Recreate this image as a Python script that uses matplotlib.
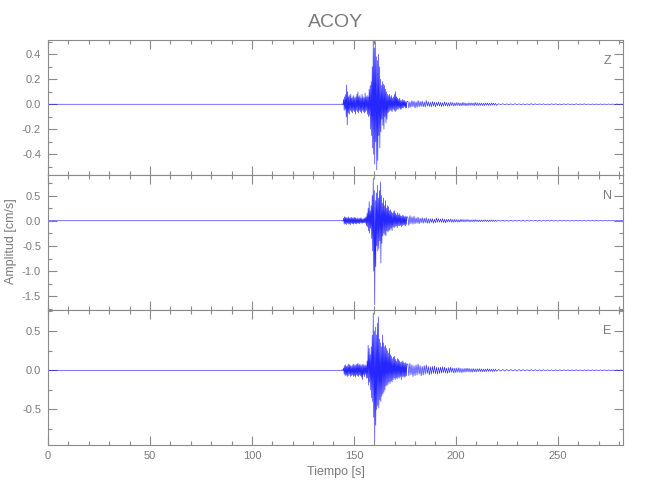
import numpy as np
import matplotlib
matplotlib.use('Agg')
import matplotlib.pyplot as plt
from matplotlib.ticker import MultipleLocator

plt.rcParams['font.family'] = ['Liberation Sans', 'DejaVu Sans']
plt.rcParams['axes.unicode_minus'] = False

station = "ACOY"
components = ["Z", "N", "E"]

# sampling of the digitised segments (s)
pre_t = [0.0, 143.75]
segA_start, segA_dt = 144.0, 0.25
segB_start, segB_dt = 176.5, 0.5
segC_start, segC_dt = 221.0, 1.0

# ---------------- Z component (cm/s) ----------------
z_pre = [0.0, 0.0]
z_A = [0.002, -0.003, 0.003, -0.002,
       0.04, -0.05, 0.06, -0.04,
       0.08, -0.1, 0.155, -0.165,
       0.1, -0.07, 0.06, -0.08,
       0.07, -0.05, 0.08, -0.06,
       0.05, -0.07, 0.06, -0.05,
       0.07, -0.06, 0.05, -0.08,
       0.06, -0.05, 0.08, -0.06,
       0.1, -0.07, 0.06, -0.05,
       0.07, -0.06, 0.05, -0.07,
       0.08, -0.05, 0.06, -0.06,
       0.05, -0.07, 0.09, -0.06,
       0.06, -0.05, 0.07, -0.08,
       0.06, -0.1, 0.12, -0.09,
       0.15, -0.2, 0.18, -0.25,
       0.3, -0.35, 0.51, -0.4,
       0.45, -0.48, 0.5, -0.3,
       0.38, -0.525, 0.35, -0.45,
       0.4, -0.25, 0.3, -0.35,
       0.2, -0.22, 0.15, -0.12,
       0.18, -0.17, 0.16, -0.2,
       0.15, -0.1, 0.12, -0.15,
       0.1, -0.12, 0.08, -0.07,
       0.07, -0.06, 0.08, -0.05,
       0.06, -0.05, 0.07, -0.06,
       0.05, -0.04, 0.06, -0.05,
       0.08, -0.06, 0.1, -0.05,
       0.06, -0.04, 0.05, -0.04,
       0.04, -0.03, 0.05, -0.04,
       0.03, -0.04, 0.03, -0.03,
       0.04, -0.03, 0.03, -0.02,
       0.03, -0.03, 0.02, -0.03,
       0.02]
z_B = [0.025, -0.03, 0.02, -0.025, 0.03, -0.02, 0.025, -0.03,
       0.02, -0.025, 0.03, -0.02, 0.022, -0.018, 0.025, -0.02,
       0.018, -0.022, 0.03, -0.015, 0.02, -0.018, 0.015, -0.02,
       0.022, -0.015, 0.018, -0.02, 0.015, -0.012, 0.018, -0.015,
       0.015, -0.018, 0.012, -0.015, 0.018, -0.012, 0.014, -0.016,
       0.012, -0.014, 0.016, -0.01, 0.013, -0.015, 0.011, -0.012,
       0.014, -0.01, 0.012, -0.013, 0.01, -0.012, 0.015, -0.01,
       0.011, -0.013, 0.009, -0.011, 0.012, -0.01, 0.011, -0.009,
       0.01, -0.012, 0.014, -0.009, 0.01, -0.011, 0.009, -0.01,
       0.009, -0.01, 0.008, -0.011, 0.01, -0.008, 0.009, -0.01,
       0.008, -0.009, 0.01, -0.007, 0.009, -0.008, 0.007, -0.009]
z_C = [0.004, -0.003, 0.004, -0.003, 0.003, -0.004, 0.003, -0.003, 0.004, -0.003,
       0.003, -0.003, 0.003, -0.004, 0.003, -0.003, 0.004, -0.003, 0.003, -0.003,
       0.003, -0.002, 0.003, -0.003, 0.002, -0.003, 0.003, -0.002, 0.003, -0.003,
       0.002, -0.003, 0.003, -0.002, 0.003, -0.002, 0.002, -0.003, 0.003, -0.002,
       0.002, -0.002, 0.003, -0.002, 0.002, -0.002, 0.002, -0.002, 0.002, -0.002,
       0.002, -0.002, 0.002, -0.002, 0.002, -0.002, 0.002, -0.002, 0.002, -0.002,
       0.002, -0.002]

# ---------------- N component (cm/s) ----------------
n_pre = [0.0, 0.0]
n_A = [0.005, -0.006, 0.004, -0.005,
       0.05, -0.07, 0.08, -0.06,
       0.07, -0.08, 0.06, -0.05,
       0.06, -0.07, 0.08, -0.06,
       0.05, -0.08, 0.06, -0.05,
       0.07, -0.06, 0.05, -0.07,
       0.06, -0.05, 0.07, -0.06,
       0.05, -0.06, 0.04, -0.05,
       0.06, -0.05, 0.04, -0.06,
       0.05, -0.04, 0.06, -0.05,
       0.04, -0.05, 0.03, -0.04,
       0.05, -0.04, 0.06, -0.05,
       0.08, -0.1, 0.15, -0.12,
       0.25, -0.2, 0.38, -0.25,
       0.2, -0.15, 0.3, -0.35,
       0.5, -0.6, 0.84, -1.0,
       0.6, -1.67, 0.4, -0.91,
       0.55, -0.5, 0.7, -0.6,
       0.45, -0.55, 0.6, -0.4,
       0.77, -0.84, 0.5, -0.45,
       0.35, -0.3, 0.45, -0.25,
       0.3, -0.28, 0.4, -0.3,
       0.25, -0.2, 0.3, -0.22,
       0.28, -0.2, 0.2, -0.18,
       0.22, -0.15, 0.18, -0.2,
       0.15, -0.12, 0.18, -0.14,
       0.2, -0.12, 0.15, -0.1,
       0.12, -0.14, 0.16, -0.1,
       0.12, -0.1, 0.14, -0.09,
       0.1, -0.12, 0.09, -0.1,
       0.11, -0.08, 0.1, -0.09,
       0.08, -0.1, 0.09, -0.07,
       0.08]
n_B = [0.07, -0.09, 0.1, -0.06, 0.08, -0.07, 0.09, -0.06,
       0.06, -0.05, 0.07, -0.06, 0.05, -0.04, 0.06, -0.05,
       0.05, -0.04, 0.06, -0.05, 0.04, -0.05, 0.04, -0.03,
       0.04, -0.05, 0.03, -0.04, 0.05, -0.03, 0.04, -0.03,
       0.035, -0.03, 0.04, -0.035, 0.03, -0.04, 0.03, -0.025,
       0.03, -0.025, 0.035, -0.03, 0.025, -0.03, 0.028, -0.025,
       0.025, -0.03, 0.02, -0.025, 0.03, -0.02, 0.025, -0.022,
       0.022, -0.02, 0.025, -0.018, 0.02, -0.022, 0.018, -0.02,
       0.02, -0.018, 0.022, -0.015, 0.018, -0.02, 0.015, -0.018,
       0.016, -0.018, 0.015, -0.014, 0.018, -0.015, 0.014, -0.016,
       0.015, -0.013, 0.016, -0.014, 0.012, -0.015, 0.013, -0.012]
n_C = [0.01, -0.009, 0.01, -0.008, 0.009, -0.01, 0.008, -0.009, 0.01, -0.008,
       0.009, -0.008, 0.008, -0.009, 0.008, -0.008, 0.009, -0.007, 0.008, -0.008,
       0.007, -0.008, 0.008, -0.007, 0.008, -0.006, 0.007, -0.008, 0.006, -0.007,
       0.007, -0.006, 0.007, -0.006, 0.006, -0.007, 0.005, -0.006, 0.007, -0.005,
       0.006, -0.005, 0.005, -0.006, 0.005, -0.005, 0.006, -0.005, 0.005, -0.005,
       0.005, -0.005, 0.005, -0.004, 0.005, -0.004, 0.004, -0.005, 0.004, -0.004,
       0.004, -0.004]

# ---------------- E component (cm/s) ----------------
e_pre = [0.0, 0.0]
e_A = [0.004, -0.005, 0.006, -0.004,
       0.03, -0.05, 0.06, -0.07,
       0.07, -0.06, 0.05, -0.08,
       0.06, -0.07, 0.08, -0.05,
       0.07, -0.08, 0.06, -0.07,
       0.05, -0.06, 0.07, -0.08,
       0.08, -0.07, 0.06, -0.09,
       0.07, -0.06, 0.08, -0.07,
       0.09, -0.08, 0.07, -0.06,
       0.08, -0.07, 0.06, -0.09,
       0.07, -0.12, 0.08, -0.06,
       0.06, -0.08, 0.07, -0.05,
       0.06, -0.1, 0.12, -0.1,
       0.32, -0.19, 0.28, -0.15,
       0.2, -0.25, 0.3, -0.35,
       0.45, -0.4, 0.73, -0.6,
       0.5, -0.91, 0.55, -0.7,
       0.45, -0.5, 0.6, -0.45,
       0.68, -0.48, 0.4, -0.38,
       0.35, -0.4, 0.3, -0.33,
       0.45, -0.3, 0.35, -0.28,
       0.3, -0.25, 0.32, -0.2,
       0.28, -0.19, 0.25, -0.18,
       0.22, -0.15, 0.28, -0.17,
       0.2, -0.14, 0.18, -0.15,
       0.15, -0.12, 0.17, -0.1,
       0.18, -0.12, 0.14, -0.1,
       0.12, -0.11, 0.15, -0.09,
       0.14, -0.1, 0.12, -0.08,
       0.1, -0.12, 0.11, -0.08,
       0.12, -0.08, 0.1, -0.09,
       0.09, -0.08, 0.1, -0.07,
       0.08]
e_B = [0.08, -0.07, 0.09, -0.06, 0.07, -0.08, 0.06, -0.07,
       0.07, -0.06, 0.08, -0.05, 0.06, -0.07, 0.05, -0.06,
       0.06, -0.05, 0.07, -0.04, 0.05, -0.06, 0.045, -0.05,
       0.05, -0.04, 0.055, -0.045, 0.04, -0.05, 0.035, -0.04,
       0.04, -0.035, 0.045, -0.03, 0.04, -0.035, 0.03, -0.04,
       0.035, -0.03, 0.04, -0.025, 0.03, -0.035, 0.028, -0.03,
       0.03, -0.025, 0.032, -0.028, 0.025, -0.03, 0.022, -0.025,
       0.025, -0.022, 0.028, -0.02, 0.024, -0.022, 0.02, -0.025,
       0.022, -0.02, 0.018, -0.022, 0.02, -0.018, 0.021, -0.017,
       0.018, -0.02, 0.016, -0.018, 0.015, -0.017, 0.019, -0.015,
       0.016, -0.014, 0.015, -0.017, 0.013, -0.015, 0.014, -0.012]
e_C = [0.01, -0.009, 0.009, -0.01, 0.009, -0.008, 0.01, -0.009, 0.008, -0.009,
       0.009, -0.008, 0.009, -0.008, 0.007, -0.008, 0.008, -0.007, 0.008, -0.008,
       0.007, -0.008, 0.007, -0.006, 0.007, -0.007, 0.006, -0.007, 0.007, -0.006,
       0.006, -0.007, 0.006, -0.005, 0.006, -0.006, 0.005, -0.006, 0.006, -0.005,
       0.005, -0.006, 0.005, -0.005, 0.005, -0.005, 0.005, -0.005, 0.005, -0.004,
       0.004, -0.005, 0.005, -0.004, 0.004, -0.004, 0.004, -0.005, 0.004, -0.004,
       0.004, -0.004]

# axis limits per component
ylims = {"Z": (-0.566, 0.514), "N": (-1.77, 0.907), "E": (-0.953, 0.769)}
yticks_major = {"Z": 0.2, "N": 0.5, "E": 0.5}
yticks_minor = {"Z": 0.1, "N": 0.25, "E": 0.25}
xlim = (0, 282)


def build(pre, a, b, c):
    t = np.concatenate([
        np.array(pre_t),
        segA_start + segA_dt * np.arange(len(a)),
        segB_start + segB_dt * np.arange(len(b)),
        segC_start + segC_dt * np.arange(len(c)),
    ])
    v = np.concatenate([pre, a, b, c])
    return t, v


traces = {
    "Z": build(z_pre, z_A, z_B, z_C),
    "N": build(n_pre, n_A, n_B, n_C),
    "E": build(e_pre, e_A, e_B, e_C),
}

W, H = 650, 500
fig = plt.figure(figsize=(W / 100, H / 100), dpi=100)
gray = "#8a8a8a"
txt = "#7a7a7a"

left_px, right_px = 48, 623
tops = [40, 175, 310]
ph = 135

for i, comp in enumerate(components):
    top = tops[i]
    ax = fig.add_axes([left_px / W, 1 - (top + ph) / H, (right_px - left_px) / W, ph / H])
    t, v = traces[comp]
    ax.plot(t, v, color="#0000ff", lw=0.45, alpha=0.85)
    ax.set_xlim(*xlim)
    ax.set_ylim(*ylims[comp])
    ax.xaxis.set_major_locator(MultipleLocator(50))
    ax.xaxis.set_minor_locator(MultipleLocator(10))
    ax.yaxis.set_major_locator(MultipleLocator(yticks_major[comp]))
    ax.yaxis.set_minor_locator(MultipleLocator(yticks_minor[comp]))
    ax.tick_params(which="both", direction="in", top=True, right=True,
                   color=gray, labelcolor=txt, labelsize=8, width=0.8)
    ax.tick_params(which="major", length=6.5, pad=5)
    ax.tick_params(which="minor", length=3.2)
    for s in ax.spines.values():
        s.set_color(gray)
        s.set_linewidth(0.8)
    if i < 2:
        ax.tick_params(labelbottom=False)
    else:
        ax.tick_params(axis="x", pad=4)
    ax.text(1 - 16 / 575, 1 - 21 / ph, comp, transform=ax.transAxes,
            ha="center", va="center", fontsize=9, color=txt)

fig.text(335.5 / W, 1 - 22.5 / H, station, ha="center", va="center",
         fontsize=14, color=txt)
fig.text(336 / W, 1 - 472 / H, "Tiempo [s]", ha="center", va="center",
         fontsize=9, color=txt)
fig.text(11 / W, 1 - 241 / H, "Amplitud [cm/s]", ha="center", va="center",
         rotation=90, fontsize=9, color=txt)

fig.savefig("out.png", dpi=100)
